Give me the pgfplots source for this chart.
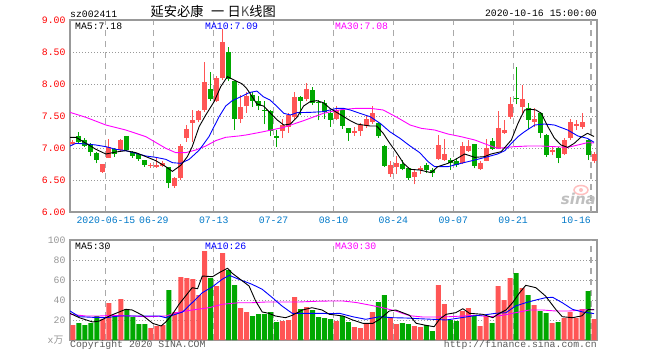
\documentclass[border=0pt]{standalone}
\usepackage{fontspec}
\setmainfont{Liberation Mono}
\newfontfamily\cjk{Noto Sans CJK SC}
\newfontfamily\sinaf{DejaVu Sans}
\usepackage{pgfplots}
\usepackage{pgfplotstable}
\pgfplotsset{compat=1.18}
\definecolor{cred}{RGB}{255,85,85}
\definecolor{cgreen}{RGB}{0,168,0}
\definecolor{cblue}{RGB}{0,0,255}
\definecolor{cmag}{RGB}{255,0,255}
\definecolor{framec}{RGB}{153,153,153}
\definecolor{gridc}{RGB}{170,170,170}
\definecolor{xlab}{RGB}{0,120,200}
\definecolor{vlab}{RGB}{150,150,150}
\definecolor{copyc}{RGB}{90,90,90}
\newcommand\mf{\fontsize{9.8}{10}\selectfont}

\pgfplotstableread{
k O H L C V
0 7.07 7.12 7.04 7.10 15
5 6.63 6.75 6.61 6.75 21
6 6.85 7.14 6.84 7.01 37
8 6.97 7.14 6.95 7.12 41
13 6.72 6.77 6.69 6.74 12
14 6.71 6.85 6.69 6.73 14
15 6.72 6.79 6.70 6.77 15
17 6.40 6.55 6.38 6.53 28
18 6.53 7.06 6.50 7.03 63
19 7.15 7.36 7.10 7.30 62
20 7.39 7.59 7.10 7.43 61
21 7.43 7.60 7.40 7.58 45
22 7.59 8.35 7.57 8.03 89
24 7.73 8.12 7.72 8.09 54
25 8.09 8.86 8.06 8.66 87
28 7.46 7.83 7.39 7.64 32
29 7.65 7.88 7.55 7.82 28
35 7.26 7.46 7.15 7.36 19
36 7.33 7.54 7.24 7.52 20
37 7.48 7.88 7.46 7.80 43
39 7.77 8.01 7.73 7.92 33
44 7.46 7.65 7.43 7.59 19
47 7.24 7.33 7.19 7.26 13
48 7.26 7.39 7.19 7.36 12
49 7.35 7.52 7.32 7.46 16
50 7.41 7.65 7.38 7.55 28
53 6.59 6.80 6.55 6.73 22
54 6.71 6.87 6.59 6.77 16
57 6.55 6.66 6.43 6.63 14
58 6.66 6.72 6.59 6.68 13
61 6.83 7.20 6.82 7.05 55
62 6.81 7.14 6.80 6.91 36
65 6.76 7.10 6.75 7.03 29
66 6.96 7.13 6.94 7.03 32
68 6.67 6.79 6.66 6.77 14
69 6.80 7.14 6.79 7.00 24
71 6.99 7.58 6.98 7.31 54
72 7.24 7.44 7.22 7.28 40
73 7.49 7.80 7.46 7.69 62
75 7.64 7.99 7.55 7.76 52
77 7.40 7.62 7.33 7.45 35
80 6.94 7.03 6.89 6.97 17
82 6.91 7.15 6.89 7.13 22
83 7.16 7.45 7.12 7.40 28
84 7.35 7.44 7.28 7.38 22
85 7.33 7.54 7.30 7.40 31
87 6.79 6.94 6.76 6.91 21
}\redtab

\pgfplotstableread{
k O H L C V
1 7.19 7.25 7.07 7.10 17
2 7.13 7.15 7.02 7.03 15
3 7.06 7.08 6.87 6.93 17
4 6.92 6.93 6.76 6.82 24
7 6.98 7.00 6.86 6.91 24
9 7.19 7.19 6.95 6.97 31
10 6.94 6.96 6.84 6.87 23
11 6.90 6.92 6.80 6.83 16
12 6.81 6.82 6.71 6.74 16
16 6.70 6.71 6.37 6.46 50
23 7.92 8.18 7.74 7.77 62
26 8.50 8.58 8.04 8.08 70
27 8.04 8.05 7.28 7.46 55
30 7.83 7.88 7.64 7.74 24
31 7.73 7.81 7.59 7.65 26
32 7.60 7.73 7.37 7.59 26
33 7.58 7.60 7.18 7.27 28
34 7.19 7.28 7.02 7.15 18
38 7.80 7.81 7.52 7.74 31
40 7.90 7.95 7.67 7.71 30
41 7.72 7.75 7.43 7.71 23
42 7.71 7.75 7.45 7.57 22
43 7.55 7.59 7.33 7.43 21
45 7.59 7.61 7.30 7.34 24
46 7.31 7.32 7.11 7.23 18
51 7.39 7.40 7.16 7.19 38
52 7.03 7.04 6.70 6.72 45
55 6.75 6.81 6.65 6.67 17
56 6.68 6.69 6.50 6.53 16
59 6.74 6.76 6.61 6.65 15
60 6.65 6.68 6.55 6.61 9
63 6.81 6.84 6.66 6.77 20
64 6.79 6.85 6.70 6.74 19
67 7.06 7.07 6.68 6.72 24
70 7.11 7.15 6.97 6.98 17
74 7.78 8.26 7.68 7.76 67
76 7.63 7.71 7.29 7.43 45
78 7.54 7.56 7.15 7.24 29
79 7.20 7.22 6.86 6.89 27
81 7.00 7.01 6.76 6.85 18
86 7.13 7.14 6.81 6.89 49
}\greentab

\pgfplotsset{
  kax/.style={
    scale only axis, anchor=south west,
    xmin=0, xmax=88,
    axis line style={framec, line width=1.3pt},
    major tick length=0pt,
    /pgf/number format/assume math mode=true,
    xtick={6,14,24,34,44,54,64,74},
    xmajorgrids, ymajorgrids,
    x grid style={gridc, line width=1.1pt, dash pattern=on 6.5pt off 4.5pt},
    y grid style={framec, line width=1pt, dash pattern=on 1.2pt off 1.8pt},
    extra x ticks={87},
    yticklabel style={anchor=east, inner sep=0pt, xshift=-4.3pt, font=\mf},
  }
}

\begin{document}
\begin{tikzpicture}[x=1pt,y=1pt]
\path[use as bounding box] (0,0) rectangle (660,360);

% ---------- price panel ----------
\begin{axis}[kax,
  at={(70pt,148pt)}, width=527pt, height=192pt,
  ymin=6, ymax=9,
  ytick={6,6.5,7,7.5,8,8.5,9},
  yticklabel style={text=red, /pgf/number format/fixed, /pgf/number format/fixed zerofill, /pgf/number format/precision=2},
  xticklabels={2020-06-15,06-29,07-13,07-27,08-10,08-24,09-07,09-21},
  xticklabel style={text=xlab, anchor=north, inner sep=0pt, yshift=-4.8pt, font=\mf},
  extra x tick labels={10-16},
  extra x tick style={grid=major, xticklabel style={anchor=north east}},
]
% wicks
\addplot[draw=none, mark=none, forget plot, error bars/.cd, y dir=plus, y explicit, error mark=none,
  error bar style={draw=cred, line width=1pt}]
  table[x expr=\thisrow{k}+0.5, y=L, y error plus expr=\thisrow{H}-\thisrow{L}] {\redtab};
\addplot[draw=none, mark=none, forget plot, error bars/.cd, y dir=plus, y explicit, error mark=none,
  error bar style={draw=cgreen, line width=1pt}]
  table[x expr=\thisrow{k}+0.5, y=L, y error plus expr=\thisrow{H}-\thisrow{L}] {\greentab};
% bodies
\addplot[draw=none, mark=none, forget plot, error bars/.cd, y dir=plus, y explicit, error mark=none,
  error bar style={draw=cred, line width=5pt}]
  table[x expr=\thisrow{k}+0.5, y=O, y error plus expr=\thisrow{C}-\thisrow{O}] {\redtab};
\addplot[draw=none, mark=none, forget plot, error bars/.cd, y dir=minus, y explicit, error mark=none,
  error bar style={draw=cgreen, line width=5pt}]
  table[x expr=\thisrow{k}+0.5, y=O, y error minus expr=\thisrow{O}-\thisrow{C}] {\greentab};
% MA30
\addplot[cmag, line width=0.9pt] coordinates {
(0,7.557) (2.67,7.479) (6,7.359) (9.33,7.281) (12.67,7.177) (16,6.995) (17.67,6.927) (19.33,6.927) (21,6.969) (22.67,7.031) (24.33,7.115) (26,7.167) (28.2,7.188) (29.5,7.205) (32.3,7.255) (35.7,7.323) (39,7.427) (42.3,7.542) (44,7.578) (45.7,7.604) (47.9,7.62) (50.1,7.62) (52.3,7.594) (54.6,7.479) (56.8,7.359) (58.67,7.307) (60.9,7.281) (63.1,7.219) (65.3,7.177) (67.6,7.125) (69.8,7.047) (71.4,6.995) (74.2,7.021) (76.4,7.031) (78.7,7.031) (80.9,7.021) (83.1,7.01) (84.8,7.047) (86.4,7.083) (87.5,7.08)};
% MA10
\addplot[cblue, line width=0.9pt] coordinates {
(0,7.031) (1,7.073) (2.67,7.063) (4.33,7.047) (6,7.021) (7.67,6.979) (9.33,6.958) (11,6.917) (12.67,6.875) (14.33,6.854) (16,6.823) (17.1,6.771) (18.5,6.76) (19.9,6.823) (21.6,6.969) (23.2,7.177) (24.9,7.49) (26,7.656) (27.1,7.74) (28.8,7.813) (29.9,7.865) (31.2,7.89) (32.3,7.80) (33.4,7.75) (34.6,7.646) (35.7,7.542) (36.8,7.516) (37.9,7.552) (40.1,7.557) (42.3,7.568) (43.4,7.594) (44.6,7.62) (45.7,7.62) (46.8,7.594) (48.4,7.542) (50.1,7.49) (51.8,7.385) (53.4,7.255) (55.1,7.151) (56.8,7.031) (58.4,6.927) (59.8,6.786) (60.9,6.708) (63.1,6.708) (65.3,6.76) (67.6,6.813) (69.8,6.865) (71.4,6.906) (72.6,6.958) (73.7,7.073) (74.8,7.177) (75.9,7.255) (77.6,7.359) (79.2,7.375) (80.9,7.359) (83.1,7.281) (84.8,7.188) (86.4,7.151) (87.5,7.09)};
% MA5
\addplot[black, line width=0.9pt] coordinates {
(0,7.167) (1,7.167) (2.67,7.073) (4.33,6.979) (6,6.906) (7.67,6.938) (9.33,6.958) (11,6.927) (12.67,6.865) (14.33,6.802) (16,6.708) (17.1,6.635) (18.5,6.73) (19.6,6.865) (20.4,7.02) (21.56,7.333) (22.67,7.516) (24.06,7.724) (25.17,7.958) (26.28,8.115) (27.39,8.063) (28.78,8.0) (29.5,7.93) (30.3,7.82) (31.2,7.688) (32.3,7.656) (33.4,7.552) (34.6,7.438) (35.7,7.359) (36.8,7.375) (37.9,7.479) (39,7.656) (40.1,7.724) (41.2,7.74) (42.3,7.708) (43.4,7.62) (44.6,7.552) (45.7,7.49) (46.8,7.427) (47.9,7.375) (49,7.359) (50.1,7.344) (51.2,7.344) (52.3,7.229) (53.4,7.073) (54.6,6.917) (55.7,6.76) (56.8,6.667) (58.4,6.656) (59.6,6.63) (60.3,6.615) (61.4,6.708) (63.1,6.76) (64.2,6.813) (65.9,6.906) (67.6,6.854) (69.2,6.865) (70.3,6.906) (72,6.943) (73.7,7.125) (74.8,7.385) (75.9,7.594) (77,7.604) (77.8,7.594) (78.7,7.542) (79.8,7.333) (80.9,7.151) (82,7.047) (83.1,7.01) (84.2,7.073) (85.3,7.167) (86.4,7.229) (87.5,7.18)};
\end{axis}

% ---------- volume panel ----------
\begin{axis}[kax,
  at={(70pt,20pt)}, width=527pt, height=100pt,
  ymin=0, ymax=100,
  ytick={20,40,60,80,100},
  yticklabel style={text=vlab},
  xticklabels={}, extra x tick labels={},
  extra x tick style={grid=major},
]
\addplot[ybar, bar width=5pt, bar shift=0pt, fill=cred, draw=none, forget plot]
  table[x expr=\thisrow{k}+0.5, y=V] {\redtab};
\addplot[ybar, bar width=5pt, bar shift=0pt, fill=cgreen, draw=none, forget plot]
  table[x expr=\thisrow{k}+0.5, y=V] {\greentab};
% MA30
\addplot[cmag, line width=0.9pt] coordinates {
(0,25.7) (2.67,24) (4.9,24) (7.1,24.7) (10.4,24) (12.7,23.3) (16,24) (17.7,27.3) (20.4,30) (23.2,32.3) (25.4,35.7) (28.2,37.3) (30.4,37.3) (32.7,38) (35.4,38) (38.2,38) (41,38.7) (43.3,39) (45.6,39) (47.8,37.5) (50,35) (52.2,32.3) (54.4,29) (56.7,24.3) (58.9,23) (61.1,23) (63.3,23.3) (65.6,24) (67.8,24.7) (70,23.3) (72.2,24.7) (74.4,27.3) (76.7,30) (78.9,30) (81.1,29) (83.3,29) (85.6,30) (87.5,30.5)};
% MA10
\addplot[cblue, line width=0.9pt] coordinates {
(0,29) (1.56,23.3) (3.78,22.7) (6,22.3) (8.2,24) (10.4,24) (12.7,24) (14.9,24) (16,22.3) (17.1,24.7) (18.8,28) (20.4,37.3) (22.1,47.3) (23.8,53.3) (25.4,60.7) (26.6,64.7) (28.2,60.7) (30.4,55.7) (32.1,50.7) (33.8,42.3) (35.4,34) (37.1,26.7) (38.8,26.7) (40.4,26.7) (42.1,26.7) (43.3,26.3) (45,26.7) (47.2,23.3) (49.4,20.7) (51.7,23.3) (53.9,22.3) (56.1,22) (58.3,21.3) (60.6,20.7) (62.8,20) (65,22) (67.2,24) (69.4,25.3) (71.1,26.7) (72.8,27.3) (74.4,34) (76.1,37.3) (77.8,40) (79.4,42.3) (80.6,42.7) (82.2,37.3) (83.9,30.7) (85.6,28) (87.5,26.4)};
% MA5
\addplot[black, line width=0.9pt] coordinates {
(0,26.7) (1.56,22.3) (3.78,18) (4.89,19) (6.56,24) (8.2,28) (9.3,30.7) (10.4,30) (12.1,24.7) (13.8,16.7) (15.2,14) (16,18) (17.1,25.7) (18.2,35.7) (19.3,44) (20.4,52.3) (21.3,51.3) (22.1,64) (23.8,63.3) (24.9,67.3) (26.3,71.7) (27.1,66.7) (28.8,59) (29.9,54) (31,39) (32.1,28) (33.2,26.7) (34.3,24) (36,22.3) (37.1,24.7) (38.8,30) (40.4,32.3) (42.1,30) (43.3,25.7) (45.6,24) (47.2,20) (48.9,16.7) (50.6,16.7) (51.7,20.7) (53.3,29) (54.4,30) (56.7,24.7) (57.8,16.7) (59.4,14.7) (60.8,13.3) (61.7,20.7) (62.8,25.7) (64.4,27.3) (65.6,31.3) (66.7,26.7) (68.9,25.7) (70.6,22.3) (71.7,26.7) (72.8,30) (73.9,37.3) (75,46.7) (76.1,54.7) (77.8,52.3) (79.4,44) (81.1,30.7) (82.2,23.3) (83.9,22.3) (85.5,24.2) (86.5,30.4) (87.5,30.2)};
\end{axis}

% ---------- texts ----------
\node[anchor=base west, inner sep=0, font=\mf] at (70,342.8) {sz002411};
\node[anchor=base west, inner sep=0, font=\fontsize{13.2}{13.2}\selectfont\cjk] at (150.5,343.3) {延安必康\hspace{7.5pt}一\hspace{3.5pt}日\textcolor{black!65}{K}线图};
\node[anchor=base east, inner sep=0, font=\mf] at (597,343.3) {2020-10-16 15:00:00};

\node[anchor=base west, inner sep=0, font=\mf] at (75,330.8) {MA5:7.18};
\node[anchor=base west, inner sep=0, font=\mf, text=cblue] at (205,330.8) {MA10:7.09};
\node[anchor=base west, inner sep=0, font=\mf, text=cmag] at (335,330.8) {MA30:7.08};

\node[anchor=base west, inner sep=0, font=\mf] at (75,110.2) {MA5:30};
\node[anchor=base west, inner sep=0, font=\mf, text=cblue] at (205,110.2) {MA10:26};
\node[anchor=base west, inner sep=0, font=\mf, text=cmag] at (335,110.2) {MA30:30};

\node[anchor=base east, inner sep=0, font=\mf, text=vlab] at (63.5,17) {x{\cjk 万}};
\node[anchor=base west, inner sep=0, font=\mf, text=copyc] at (70,12.5) {Copyright 2020 SINA.COM};
\node[anchor=base east, inner sep=0, font=\mf, text=copyc] at (597,12.5) {http://finance.sina.com.cn};

% sina watermark
\draw[red!25, line width=1.5pt] (581,170) ellipse (7pt and 4.5pt);
\fill[red!25] (581,170) circle (2pt);
\node[anchor=base east, inner sep=0, text=black!25, font=\fontsize{15}{15}\selectfont\sinaf\bfseries\itshape] at (596,155.5) {sina};
\end{tikzpicture}
\end{document}
